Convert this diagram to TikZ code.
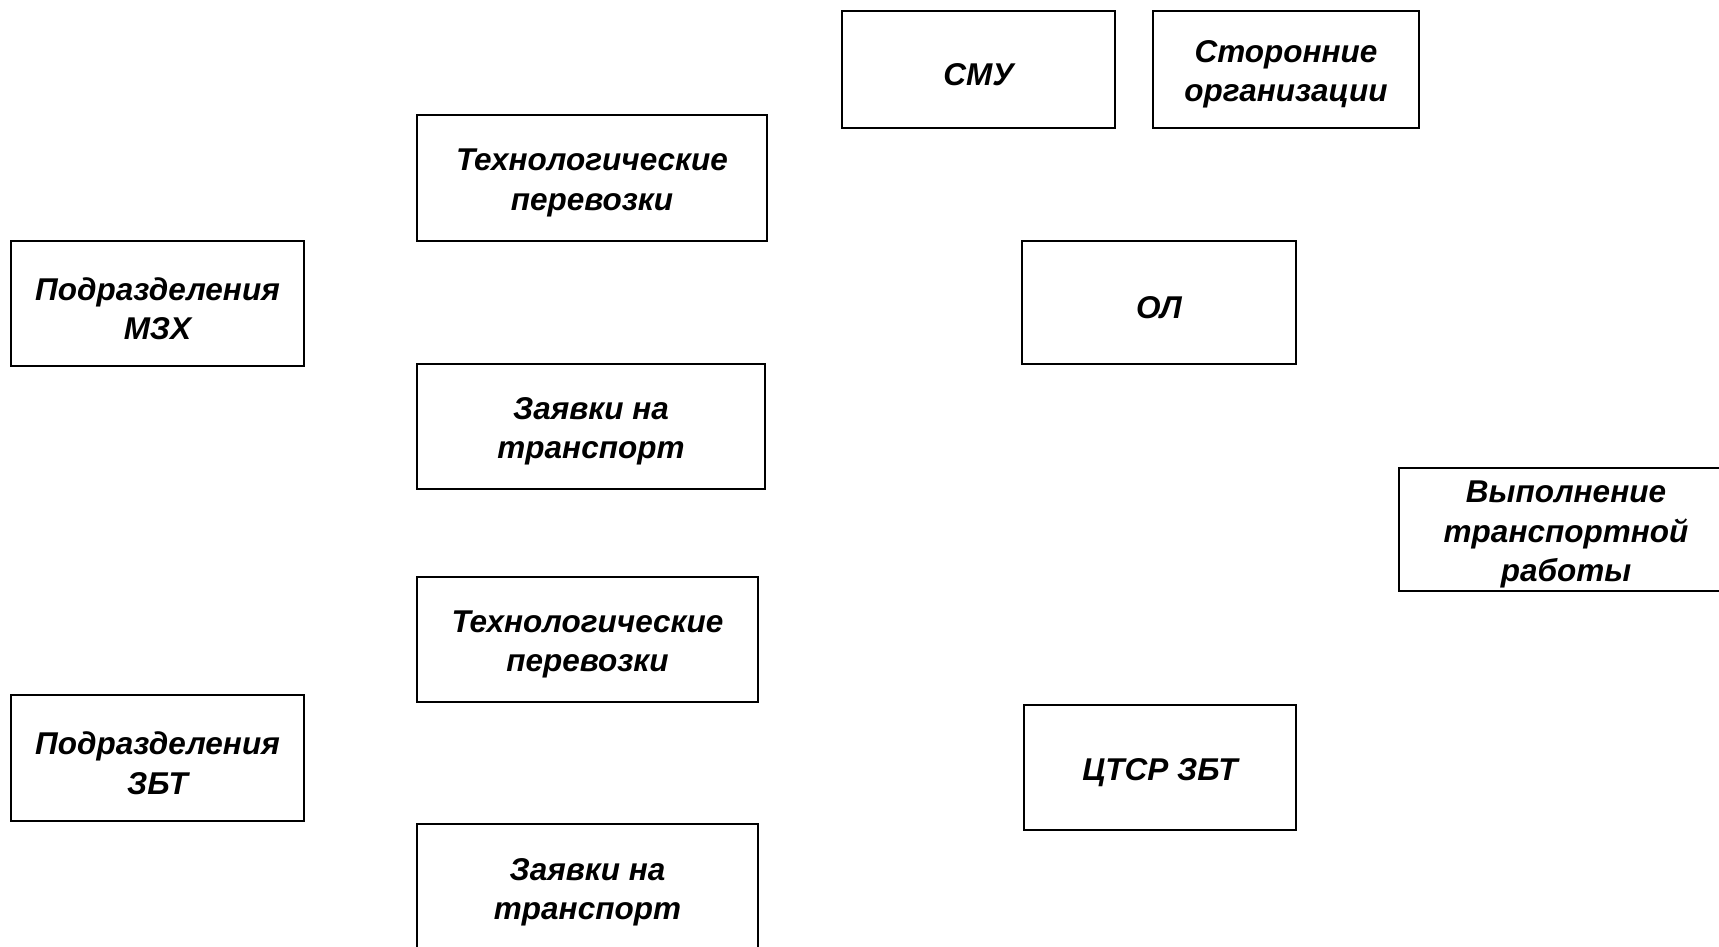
\documentclass[tikz,border=0pt]{standalone}
\usepackage{fontspec}
\setmainfont{Liberation Sans}
\begin{document}
\begin{tikzpicture}[x=1pt,y=-1pt,
  box/.style={draw=black, line width=2.4pt, fill=white, inner sep=0pt},
  txt/.style={inner sep=0pt, align=center, yshift=-5pt,
    font=\fontsize{31.5}{39.5}\selectfont\bfseries\itshape}]
\useasboundingbox (0,0) rectangle (1719,947);
\clip (0,0) rectangle (1719,947);
\fill[white] (0,0) rectangle (1719,947);
\node[box, minimum width=293pt, minimum height=125pt] (mzx) at (157.5,303.5) {};
\node[box, minimum width=350pt, minimum height=126pt] (tech1) at (592,178) {};
\node[box, minimum width=348pt, minimum height=125pt] (zay1) at (591,426.5) {};
\node[box, minimum width=273pt, minimum height=117pt] (smu) at (978.5,69.5) {};
\node[box, minimum width=266pt, minimum height=117pt] (stor) at (1286,69.5) {};
\node[box, minimum width=274pt, minimum height=123pt] (ol) at (1159,302.5) {};
\node[box, minimum width=334pt, minimum height=123pt] (vyp) at (1566,529.5) {};
\node[box, minimum width=341pt, minimum height=125pt] (tech2) at (587.5,639.5) {};
\node[box, minimum width=293pt, minimum height=126pt] (zbt) at (157.5,758) {};
\node[box, minimum width=272pt, minimum height=125pt] (ctsr) at (1160,767.5) {};
\node[box, minimum width=341pt, minimum height=127pt] (zay2) at (587.5,887.5) {};
\node[txt] (tmzx) at (mzx.center) {Подразделения\\МЗХ};
\node[txt] (ttech1) at (tech1.center) {Технологические\\перевозки};
\node[txt] (tzay1) at (zay1.center) {Заявки на\\транспорт};
\node[txt] (tsmu) at (smu.center) {СМУ};
\node[txt] (tstor) at (stor.center) {Сторонние\\организации};
\node[txt] (tol) at (ol.center) {ОЛ};
\node[txt] (tvyp) at (vyp.center) {Выполнение\\транспортной\\работы};
\node[txt] (ttech2) at (tech2.center) {Технологические\\перевозки};
\node[txt] (tzbt) at (zbt.center) {Подразделения\\ЗБТ};
\node[txt] (tctsr) at (ctsr.center) {ЦТСР ЗБТ};
\node[txt] (tzay2) at (zay2.center) {Заявки на\\транспорт};
\end{tikzpicture}
\end{document}
